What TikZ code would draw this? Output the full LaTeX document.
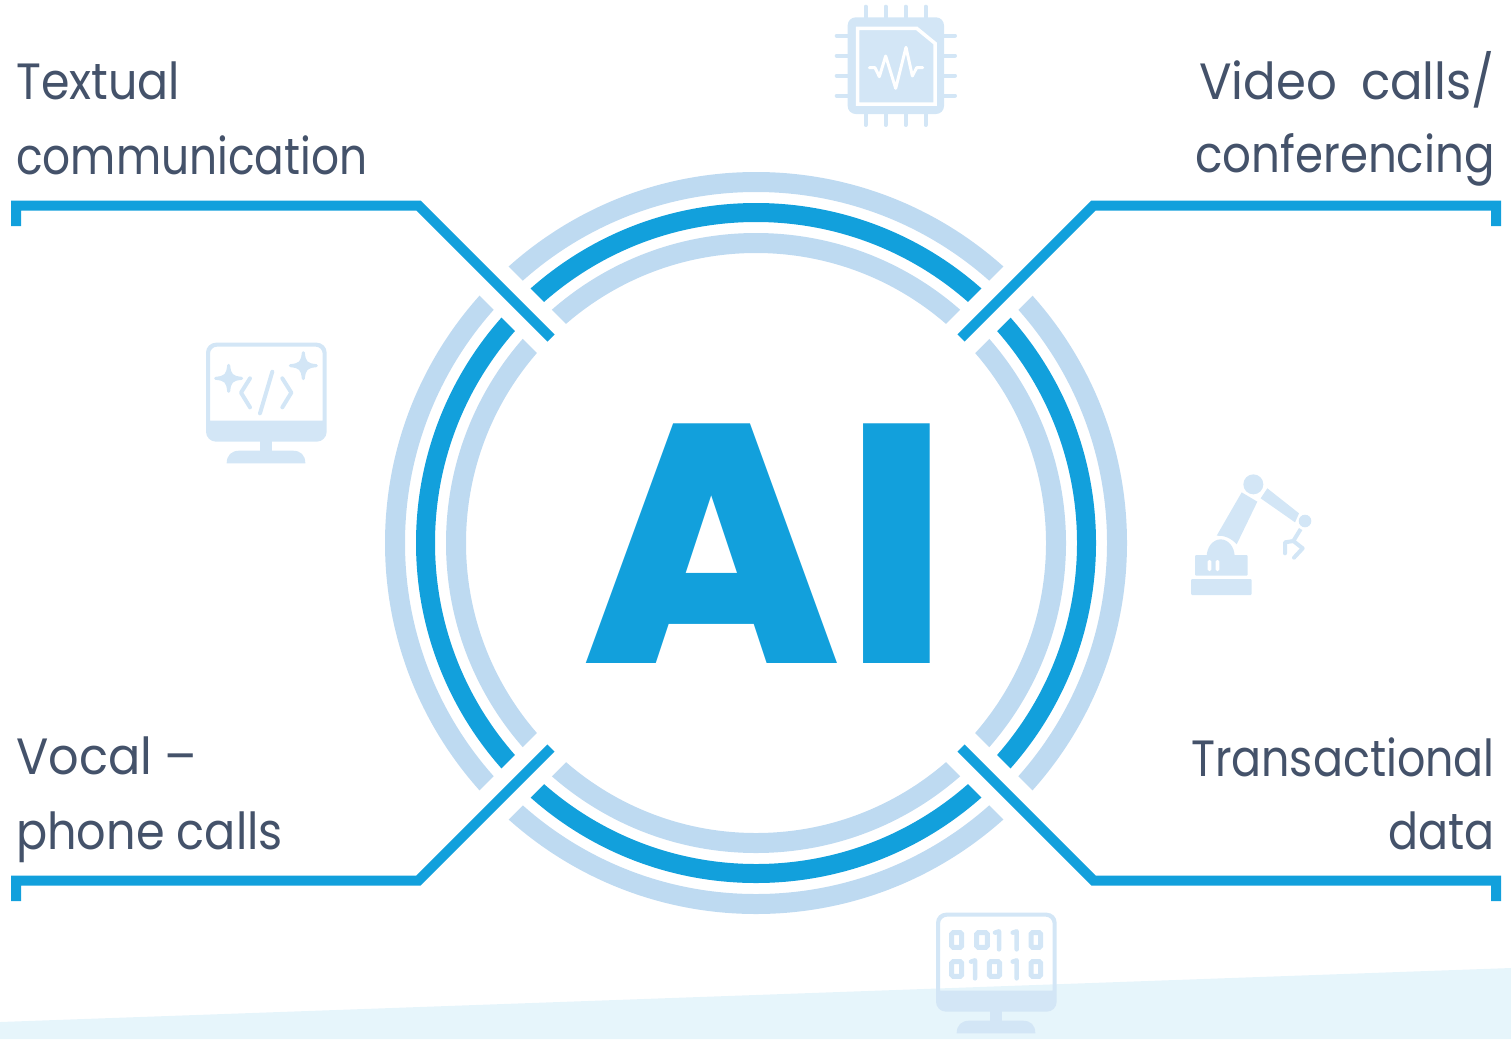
\documentclass[tikz,border=0pt]{standalone}
\usepackage{graphicx}
\usepackage{fontspec}
\setmainfont{Poppins}
\newfontfamily\aifont{Poppins ExtraBold}
\definecolor{mainblue}{HTML}{12A0DC}
\definecolor{ringblue}{HTML}{BEDAF1}
\definecolor{iconblue}{HTML}{D3E6F6}
\definecolor{bandblue}{HTML}{E6F5FB}
\definecolor{labelgrey}{HTML}{44526A}
\tikzset{
  ringouter/.style={draw=ringblue,line width=20pt},
  ringmid/.style={draw=mainblue,line width=19pt},
  gap/.style={draw=white,line width=41pt},
  bracket/.style={draw=mainblue,line width=10pt,miter limit=10},
  lbl/.style={font=\fontsize{51}{75}\selectfont,text=labelgrey,inner sep=0pt,align=left},
  lblr/.style={font=\fontsize{51}{75}\selectfont,text=labelgrey,inner sep=0pt,align=right},
  icon/.style={fill=iconblue,draw=none},
  iconline/.style={draw=iconblue,line width=4pt,line cap=round,line join=round},
  iconwhite/.style={draw=white,line width=3pt,line cap=round,line join=round},
  zoomed/.style={x=0.33333pt,y=-0.33333pt}
}
\newcommand{\narrowed}[2]{\scalebox{#1}[1]{#2}}
\newcommand{\monitorbody}{%
  \fill[icon,even odd rule,rounded corners=10pt] (48,335) -- (48,38) -- (410,38) -- (410,335) -- cycle
     (60,272) [rounded corners=7pt] -- (60,50) -- (398,50) [sharp corners] -- (398,272) -- cycle;
  \fill[icon] (210,330) rectangle (247,365);
  \fill[icon] (110,400) .. controls (110,375) and (125,362) .. (148,362) -- (308,362) .. controls (332,362) and (346,375) .. (346,400) -- cycle;
}
\newcommand{\starshape}[2]{%
  \filldraw[iconline,line width=3pt,fill=iconblue] (#1,#2-39) .. controls (#1+3,#2-9) and (#1+9,#2-3) .. (#1+39,#2)
     .. controls (#1+9,#2+3) and (#1+3,#2+9) .. (#1,#2+39)
     .. controls (#1-3,#2+9) and (#1-9,#2+3) .. (#1-39,#2)
     .. controls (#1-9,#2-3) and (#1-3,#2-9) .. (#1,#2-39) -- cycle;
}
\begin{document}
\begin{tikzpicture}[x=1pt,y=-1pt]
\useasboundingbox (0,0) rectangle (1511,1039);
% floor band
\fill[bandblue] (0,1022) -- (1511,968) -- (1511,1039) -- (0,1039) -- cycle;
% rings
\coordinate (c) at (756,543);
\draw[ringouter] (c) circle[radius=361pt];
\draw[ringmid] (c) circle[radius=330.5pt];
\draw[ringouter] (c) circle[radius=300pt];
\draw[gap] (470,257) -- (1042,829);
\draw[gap] (1042,257) -- (470,829);
% brackets
\coordinate (tl0) at (16,226); \coordinate (tl1) at (16,205.5); \coordinate (tl2) at (418.5,205.5); \coordinate (tl3) at (551,338);
\coordinate (tr0) at (1496,226); \coordinate (tr1) at (1496,205.5); \coordinate (tr2) at (1093.5,205.5); \coordinate (tr3) at (961,338);
\coordinate (bl0) at (16,901); \coordinate (bl1) at (16,880.5); \coordinate (bl2) at (418.5,880.5); \coordinate (bl3) at (551,748);
\coordinate (br0) at (1496,901); \coordinate (br1) at (1496,880.5); \coordinate (br2) at (1093.5,880.5); \coordinate (br3) at (961,748);
\draw[bracket] (tl0) -- (tl1) -- (tl2) -- (tl3);
\draw[bracket] (tr0) -- (tr1) -- (tr2) -- (tr3);
\draw[bracket] (bl0) -- (bl1) -- (bl2) -- (bl3);
\draw[bracket] (br0) -- (br1) -- (br2) -- (br3);
% AI
\node[anchor=base,inner sep=0pt,text=mainblue,font=\aifont\fontsize{340}{340}\selectfont] (ai) at (766.5,663) {A\kern4pt I};
% labels
\node[lbl,anchor=base west] (t1) at (16,99) {\narrowed{.9}{Textual}};
\node[lbl,anchor=base west] (t2) at (16,174) {\narrowed{.86}{communication}};
\node[lblr,anchor=base east] (t3) at (1495,99) {\narrowed{.945}{Video\hspace{12pt} calls/}};
\node[lblr,anchor=base east] (t4) at (1495,172) {\narrowed{.885}{conferencing}};
\node[lbl,anchor=base west] (t5) at (16,774) {\narrowed{.937}{Vocal --}};
\node[lbl,anchor=base west] (t6) at (16,849) {\narrowed{.905}{phone calls}};
\node[lblr,anchor=base east] (t7) at (1495,776) {\narrowed{.87}{Transactional}};
\node[lblr,anchor=base east] (t8) at (1495,849) {\narrowed{.87}{data}};
% chip
\begin{scope}[shift={(820,0)},zoomed]
  \foreach \p in {137,197,257,317}{
    \draw[iconline] (\p,20) -- (\p,52);
    \draw[iconline] (\p,342) -- (\p,375);
  }
  \foreach \p in {107,167,227,287}{
    \draw[iconline] (50,\p) -- (83,\p);
    \draw[iconline] (372,\p) -- (405,\p);
  }
  \fill[icon,rounded corners=8pt] (83,52) rectangle (372,342);
  \draw[iconwhite,line width=3.5pt,line cap=butt,line join=miter] (113,85) -- (290,85) -- (345,130) -- (345,312) -- (113,312) -- cycle;
  \draw[iconwhite] (148,203) -- (165,203) -- (178,230) -- (197,168) -- (227,265) -- (258,142) -- (277,228) -- (290,203) -- (308,203);
\end{scope}
% code monitor
\begin{scope}[shift={(190,330)},zoomed]
  \monitorbody
  \starshape{116}{145}
  \starshape{340}{107}
  \draw[iconline] (180,145) -- (153,188) -- (180,232);
  \draw[iconline] (277,145) -- (304,188) -- (277,232);
  \draw[iconline] (247,125) -- (210,250);
\end{scope}
% robot
\begin{scope}[shift={(1180,465)},zoomed]
  \fill[icon,rounded corners=1pt] (33,342) rectangle (215,390);
  \fill[icon,rounded corners=1pt] (45,270) rectangle (203,332);
  \fill[icon] (80,275) arc[start angle=180,end angle=0,x radius=42,y radius=-52] -- cycle;
  \fill[white,rounded corners=1.5pt] (83,285) rectangle (94,318);
  \fill[white,rounded corners=1.5pt] (107,285) rectangle (118,318);
  \fill[icon] (185,82) -- (232,110) -- (170,238) .. controls (155,220) and (130,210) .. (110,212) -- cycle;
  \fill[icon] (220,58) circle[radius=10pt];
  \fill[icon] (262,70) -- (357,145) -- (345,172) -- (242,100) -- cycle;
  \fill[icon] (375,168) circle[radius=6.3pt];
  \draw[iconline,line cap=butt] (362,192) -- (340,228);
  \draw[iconline] (340,228) -- (315,232) -- (315,265);
  \draw[iconline] (340,228) -- (368,250) -- (342,278);
\end{scope}
% binary monitor
\begin{scope}[shift={(920,900)},zoomed]
  \monitorbody
  \tikzset{digitzero/.style={draw=iconblue,line width=5pt,rounded corners=1.5pt},
           digitone/.style={iconline,line width=4.5pt}}
  \draw[digitzero] (95,98) rectangle (125,142);
  \draw[digitzero] (170,98) rectangle (202,142);
  \draw[digitzero] (333,98) rectangle (362,142);
  \draw[digitzero] (95,185) rectangle (125,229);
  \draw[digitzero] (208,185) rectangle (239,229);
  \draw[digitzero] (333,185) rectangle (362,229);
  \draw[digitone] (225,98) -- (237,94) -- (237,148);
  \draw[digitone] (278,98) -- (290,94) -- (290,148);
  \draw[digitone] (153,185) -- (165,181) -- (165,235);
  \draw[digitone] (278,185) -- (290,181) -- (290,235);
\end{scope}
\end{tikzpicture}
\end{document}
